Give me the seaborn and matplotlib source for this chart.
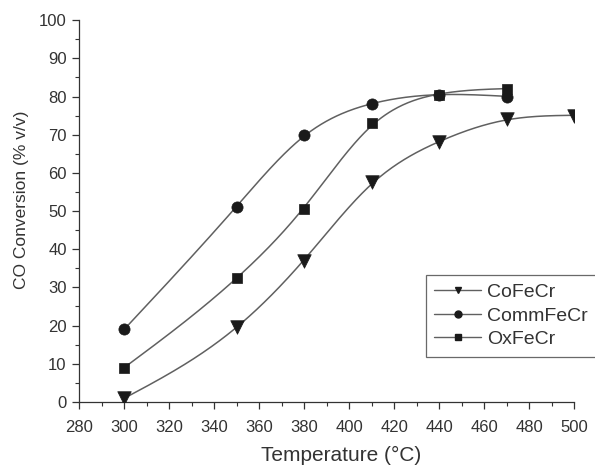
import numpy as np
import pandas as pd
import matplotlib
matplotlib.use("Agg")
import matplotlib.pyplot as plt
from matplotlib.ticker import MultipleLocator
from matplotlib.lines import Line2D
import seaborn as sns

temps_co = [300, 350, 380, 410, 440, 470, 500]
cofecr = [1, 19.5, 37, 57.5, 68, 74, 75]
temps_comm = [300, 350, 380, 410, 440, 470]
commfecr = [19, 51, 70, 78, 80.5, 80]
temps_ox = [300, 350, 380, 410, 440, 470]
oxfecr = [9, 32.5, 50.5, 73, 80.5, 82]

series_names = ["CoFeCr", "CommFeCr", "OxFeCr"]
markers = ["v", "o", "s"]
marker_sizes = [95, 65, 48]


def smoothing_spline(x, y, lam=400.0, n=300):
    """Reinsch cubic smoothing spline, evaluated on a fine grid."""
    x = np.asarray(x, float)
    y = np.asarray(y, float)
    k = len(x)
    h = np.diff(x)
    Q = np.zeros((k, k - 2))
    R = np.zeros((k - 2, k - 2))
    for j in range(1, k - 1):
        c = j - 1
        Q[j - 1, c] = 1 / h[j - 1]
        Q[j, c] = -1 / h[j - 1] - 1 / h[j]
        Q[j + 1, c] = 1 / h[j]
        R[c, c] = (h[j - 1] + h[j]) / 3
        if c + 1 < k - 2:
            R[c, c + 1] = R[c + 1, c] = h[j] / 6
    K = Q @ np.linalg.solve(R, Q.T)
    g = np.linalg.solve(np.eye(k) + lam * K, y)
    gam = np.zeros(k)
    gam[1:-1] = np.linalg.solve(R, Q.T @ g)
    xs = np.linspace(x[0], x[-1], n)
    idx = np.clip(np.searchsorted(x, xs) - 1, 0, k - 2)
    hi = h[idx]
    a = (x[idx + 1] - xs) / hi
    b = (xs - x[idx]) / hi
    ys = (a * g[idx] + b * g[idx + 1]
          + ((a**3 - a) * gam[idx] + (b**3 - b) * gam[idx + 1]) * hi**2 / 6)
    return xs, ys


sns.set_theme(style="ticks")
plt.rcParams["font.family"] = ["Liberation Sans", "DejaVu Sans"]

fig = plt.figure(figsize=(5.95, 4.69), dpi=100)
ax = fig.add_axes([0.133, 0.143, 0.832, 0.814])

line_color = "#606060"
mark_color = "#1a1a1a"
text_color = "#333333"

data = [(temps_co, cofecr), (temps_comm, commfecr), (temps_ox, oxfecr)]
handles = []
for (tx, vy), name, mk, ms in zip(data, series_names, markers, marker_sizes):
    xs, ys = smoothing_spline(tx, vy)
    sns.lineplot(x=xs, y=ys, ax=ax, color=line_color, linewidth=1.1,
                 estimator=None, sort=False)
    df = pd.DataFrame({"T": tx, "conv": vy})
    sns.scatterplot(data=df, x="T", y="conv", ax=ax, marker=mk, s=ms,
                    color=mark_color, edgecolor=mark_color, linewidth=0.5,
                    zorder=3)
    handles.append(Line2D([0], [0], color=line_color, lw=1.0, marker=mk,
                          markersize=5, markerfacecolor=mark_color,
                          markeredgecolor=mark_color, label=name))

ax.set_xlim(280, 500)
ax.set_ylim(0, 100)
ax.xaxis.set_major_locator(MultipleLocator(20))
ax.xaxis.set_minor_locator(MultipleLocator(10))
ax.yaxis.set_major_locator(MultipleLocator(10))
ax.yaxis.set_minor_locator(MultipleLocator(5))
ax.tick_params(axis="both", which="major", direction="out", length=5,
               width=0.9, labelsize=12, colors=text_color, pad=4)
ax.tick_params(axis="x", which="major", pad=8)
ax.tick_params(axis="both", which="minor", direction="out", length=2.8,
               width=0.8, colors=text_color)
sns.despine(ax=ax)
for sp in ("left", "bottom"):
    ax.spines[sp].set_color(text_color)
    ax.spines[sp].set_linewidth(0.9)

ax.set_xlabel("Temperature (°C)", fontsize=15, color=text_color)
ax.set_ylabel("CO Conversion (% v/v)", fontsize=12.5, color=text_color)
ax.xaxis.set_label_coords(0.529, -0.115)
ax.yaxis.set_label_coords(-0.102, 0.53)

leg = ax.legend(handles=handles, loc="upper left",
                bbox_to_anchor=(0.70, 0.333), frameon=True, fancybox=False,
                edgecolor="#444444", fontsize=14, handlelength=2.4,
                handletextpad=0.3, borderpad=0.45, labelspacing=0.3,
                borderaxespad=0)
leg.get_frame().set_linewidth(0.9)
for t in leg.get_texts():
    t.set_color(text_color)

fig.savefig("out.png", dpi=100, facecolor="white")
